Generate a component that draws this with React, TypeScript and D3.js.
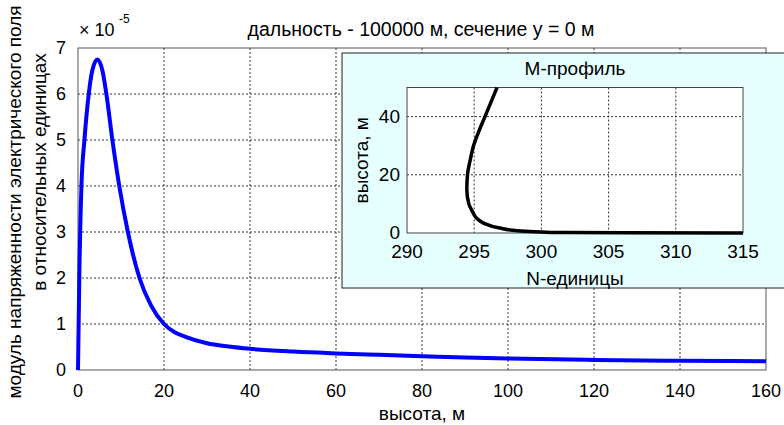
import React from 'react';
import * as d3 from 'd3';

// main curve: height (m) vs |E| (x 1e-5, relative units)
const heights = [0, 0.3, 0.8, 1.5, 2.5, 3.3, 4.5, 5.7, 6.6, 8, 9.6, 11.6, 14.3, 17, 20, 22.5, 25, 30, 35, 40, 50, 60, 70, 80, 90, 100, 120, 140, 160];
const fieldValues = [0, 2.0, 4.0, 5.0, 6.0, 6.5, 6.75, 6.5, 6.0, 5.0, 4.0, 3.0, 2.0, 1.4, 1.0, 0.82, 0.72, 0.58, 0.51, 0.46, 0.4, 0.36, 0.33, 0.3, 0.27, 0.25, 0.22, 0.2, 0.19];
const xTicks = [0, 20, 40, 60, 80, 100, 120, 140, 160];
const yTicks = [0, 1, 2, 3, 4, 5, 6, 7];

// inset: M-profile, N-units vs height
const profileHeights = [0, 0.05, 0.15, 0.35, 0.8, 1.7, 3.4, 5, 7.5, 10, 15, 20, 25, 30, 35, 40, 45, 50];
const profileN = [320, 306, 302, 300, 298.2, 296.9, 295.7, 295.2, 294.85, 294.6, 294.45, 294.5, 294.7, 294.95, 295.35, 295.8, 296.25, 296.7];
const insetXTicks = [290, 295, 300, 305, 310, 315];
const insetYTicks = [0, 20, 40];

const FONT = '"Liberation Sans", Arial, sans-serif';

export default function App() {
  const x = d3.scaleLinear().domain([0, 160]).range([78, 766]);
  const y = d3.scaleLinear().domain([0, 7]).range([370, 48]);

  const line = d3.line<number>()
    .x((_, i) => x(heights[i]))
    .y((d) => y(d))
    .curve(d3.curveMonotoneX);

  const ix = d3.scaleLinear().domain([290, 315]).range([407, 743]);
  const iy = d3.scaleLinear().domain([0, 50]).range([233, 87.5]);

  const profileLine = d3.line<number>()
    .x((d) => ix(d))
    .y((_, i) => iy(profileHeights[i]))
    .curve(d3.curveMonotoneY);

  const grid = { stroke: '#333', strokeWidth: 1, strokeDasharray: '2,2' };

  return (
    <svg width={784} height={425} style={{ position: 'absolute', left: 0, top: 0, fontFamily: FONT }}>
      <rect width={784} height={425} fill="#fff" />

      {/* main grid */}
      {xTicks.slice(1, -1).map((t) => (
        <line key={'gx' + t} x1={x(t)} x2={x(t)} y1={y(7)} y2={y(0)} {...grid} />
      ))}
      {yTicks.slice(1, -1).map((t) => (
        <line key={'gy' + t} x1={x(0)} x2={x(160)} y1={y(t)} y2={y(t)} {...grid} />
      ))}
      <rect x={x(0)} y={y(7)} width={x(160) - x(0)} height={y(0) - y(7)} fill="none" stroke="#555" />

      <path d={line(fieldValues) || ''} fill="none" stroke="#0000ff" strokeWidth={4} strokeLinejoin="round" />

      {/* main ticks */}
      {xTicks.map((t) => (
        <text key={'tx' + t} x={x(t)} y={397} fontSize={18} textAnchor="middle">{t}</text>
      ))}
      {yTicks.map((t) => (
        <text key={'ty' + t} x={66} y={y(t) + 6} fontSize={18} textAnchor="end">{t}</text>
      ))}
      <text x={79} y={36} fontSize={18}>× 10</text>
      <text x={119} y={23} fontSize={12}>-5</text>

      <text x={421} y={36} fontSize={19.5} textAnchor="middle">дальность - 100000 м, сечение y = 0 м</text>
      <text x={422} y={420} fontSize={19} textAnchor="middle">высота, м</text>
      <text transform="translate(21,202) rotate(-90)" fontSize={19} textAnchor="middle">модуль напряженности электрического поля</text>
      <text transform="translate(46,172) rotate(-90)" fontSize={19} textAnchor="middle">в относительных единицах</text>

      {/* inset */}
      <rect x={342} y={53} width={460} height={235} fill="#e6ffff" stroke="#222" />
      <rect x={ix(290)} y={iy(50)} width={ix(315) - ix(290)} height={iy(0) - iy(50)} fill="#fff" />
      <clipPath id="insetClip">
        <rect x={ix(290)} y={iy(50) - 2} width={ix(315) - ix(290)} height={iy(0) - iy(50) + 4} />
      </clipPath>
      {insetXTicks.slice(1, -1).map((t) => (
        <line key={'igx' + t} x1={ix(t)} x2={ix(t)} y1={iy(50)} y2={iy(0)} {...grid} />
      ))}
      {insetYTicks.slice(1).map((t) => (
        <line key={'igy' + t} x1={ix(290)} x2={ix(315)} y1={iy(t)} y2={iy(t)} {...grid} />
      ))}
      <rect x={ix(290)} y={iy(50)} width={ix(315) - ix(290)} height={iy(0) - iy(50)} fill="none" stroke="#444" />
      <path d={profileLine(profileN) || ''} fill="none" stroke="#000" strokeWidth={3.5} clipPath="url(#insetClip)" />

      {insetXTicks.map((t) => (
        <text key={'itx' + t} x={ix(t)} y={258} fontSize={19} textAnchor="middle">{t}</text>
      ))}
      {insetYTicks.map((t) => (
        <text key={'ity' + t} x={400} y={iy(t) + 6} fontSize={19} textAnchor="end">{t}</text>
      ))}
      <text x={575} y={75} fontSize={19} textAnchor="middle">М-профиль</text>
      <text x={575} y={285} fontSize={19} textAnchor="middle">N-единицы</text>
      <text transform={`translate(368,${(iy(0) + iy(50)) / 2}) rotate(-90)`} fontSize={19} textAnchor="middle">высота, м</text>
    </svg>
  );
}
